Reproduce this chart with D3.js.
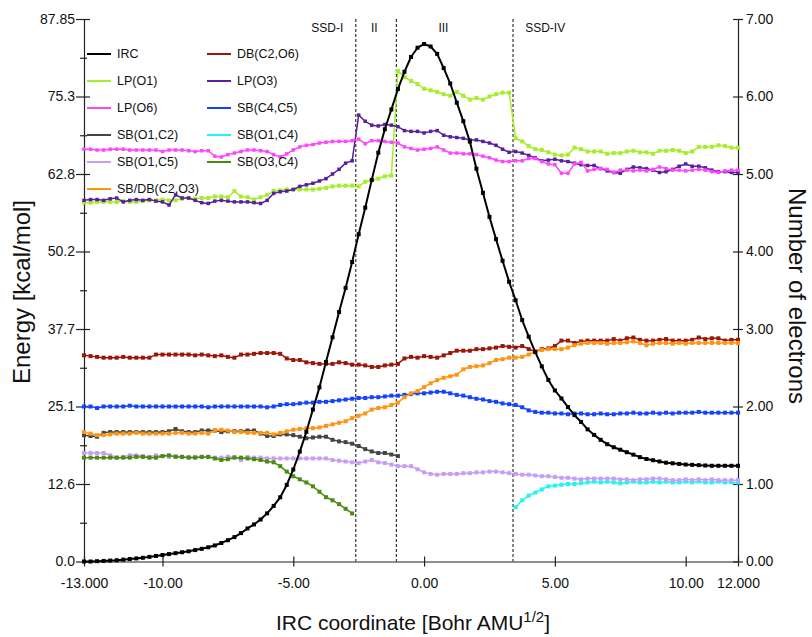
<!DOCTYPE html>
<html>
<head>
<meta charset="utf-8">
<script src="https://cdn.jsdelivr.net/npm/d3@7"></script>
<style>
  body { margin: 0; background: #fff; }
  svg text { font-family: "Liberation Sans", Arial, Helvetica, sans-serif; fill: #111; }
</style>
</head>
<body>
<div id="chart"></div>
<script>
// ---- data (IRC grid: -13 .. 12, step 0.25) ----
var ircStep = 0.25;

var ircEnergy = [
  0.0, 0.0, 0.05, 0.1,
  0.15, 0.2, 0.3, 0.4,
  0.5, 0.6, 0.75, 0.9,
  1.05, 1.2, 1.35, 1.5,
  1.65, 1.85, 2.05, 2.3,
  2.6, 3.0, 3.45, 3.95,
  4.6, 5.35, 6.0, 6.8,
  7.8, 9.0, 10.4, 12.4,
  14.9, 17.8, 21.0, 24.6,
  28.2, 32.3, 36.3, 40.4,
  44.3, 48.5, 53.0, 57.3,
  61.8, 66.2, 70.0, 73.2,
  76.5, 79.3, 81.7, 83.2,
  83.8, 83.4, 82.2, 79.9,
  77.4, 74.3, 71.3, 68.0,
  63.6, 59.7, 55.8, 52.2,
  48.7, 45.3, 42.3, 39.1,
  36.4, 33.9, 31.6, 29.4,
  27.7, 26.4, 25.0, 23.7,
  22.6, 21.4, 20.5, 19.7,
  19.0, 18.5, 18.1, 17.7,
  17.3, 16.9, 16.6, 16.4,
  16.2, 16.0, 15.9, 15.8,
  15.7, 15.65, 15.6, 15.55,
  15.5, 15.5, 15.5, 15.5,
  15.5
];

var dbC2O6 = [
  2.66, 2.65, 2.64, 2.63,
  2.63, 2.63, 2.64, 2.63,
  2.63, 2.63, 2.63, 2.67,
  2.67, 2.67, 2.67, 2.67,
  2.67, 2.66, 2.67, 2.66,
  2.65, 2.66, 2.64, 2.63,
  2.67, 2.67, 2.68, 2.69,
  2.69, 2.69, 2.68, 2.62,
  2.60, 2.60, 2.57, 2.56,
  2.55, 2.55, 2.55, 2.57,
  2.56, 2.54, 2.54, 2.53,
  2.51, 2.51, 2.53, 2.54,
  2.55, 2.62, 2.64, 2.63,
  2.65, 2.64, 2.63, 2.66,
  2.69, 2.72, 2.72, 2.72,
  2.74, 2.74, 2.75, 2.76,
  2.78, 2.77, 2.76, 2.78,
  2.74, 2.71, 2.74, 2.75,
  2.78, 2.85, 2.85, 2.82,
  2.84, 2.85, 2.85, 2.85,
  2.85, 2.87, 2.85, 2.88,
  2.89, 2.86, 2.85, 2.85,
  2.86, 2.87, 2.85, 2.85,
  2.85, 2.86, 2.89, 2.87,
  2.88, 2.88, 2.85, 2.86,
  2.86
];

var lpO1 = [
  4.63, 4.63, 4.64, 4.64,
  4.64, 4.64, 4.65, 4.64,
  4.64, 4.65, 4.66, 4.66,
  4.67, 4.66, 4.66, 4.68,
  4.69, 4.68, 4.69, 4.69,
  4.71, 4.71, 4.70, 4.78,
  4.71, 4.70, 4.67, 4.70,
  4.73, 4.78, 4.79, 4.80,
  4.80, 4.80, 4.80, 4.80,
  4.81, 4.82, 4.84, 4.85,
  4.85, 4.85, 4.84, 4.90,
  4.92, 4.94, 4.97, 4.98,
  6.33, 6.25, 6.20, 6.16,
  6.10, 6.08, 6.06, 6.03,
  6.01, 6.06, 6.01, 5.96,
  5.98, 5.96, 6.00, 6.03,
  6.05, 6.05, 5.46, 5.42,
  5.36, 5.32, 5.31, 5.28,
  5.25, 5.24, 5.25, 5.34,
  5.32, 5.29, 5.29, 5.29,
  5.26, 5.27, 5.27, 5.29,
  5.30, 5.28, 5.28, 5.26,
  5.30, 5.30, 5.31, 5.30,
  5.27, 5.29, 5.35, 5.35,
  5.35, 5.37, 5.36, 5.34,
  5.34
];

var lpO3 = [
  4.66, 4.67, 4.67, 4.66,
  4.68, 4.69, 4.64, 4.66,
  4.67, 4.66, 4.67, 4.65,
  4.64, 4.60, 4.73, 4.69,
  4.69, 4.66, 4.63, 4.62,
  4.65, 4.66, 4.65, 4.64,
  4.64, 4.64, 4.63, 4.62,
  4.66, 4.75, 4.77, 4.78,
  4.80, 4.84, 4.86, 4.88,
  4.91, 4.94, 5.00, 5.06,
  5.14, 5.17, 5.76, 5.68,
  5.63, 5.62, 5.64, 5.63,
  5.61, 5.56, 5.55, 5.55,
  5.53, 5.55, 5.56, 5.50,
  5.48, 5.47, 5.46, 5.44,
  5.44, 5.42, 5.40, 5.37,
  5.32, 5.28, 5.29, 5.27,
  5.24, 5.21, 5.17, 5.18,
  5.19, 5.17, 5.16, 5.14,
  5.12, 5.11, 5.11, 5.07,
  5.04, 5.02, 5.01, 5.06,
  5.09, 5.08, 5.07, 5.05,
  5.02, 5.03, 5.06, 5.10,
  5.13, 5.10, 5.10, 5.08,
  5.05, 5.03, 5.03, 5.02,
  5.02
];

var lpO6 = [
  5.32, 5.32, 5.31, 5.31,
  5.32, 5.32, 5.32, 5.31,
  5.31, 5.31, 5.31, 5.31,
  5.29, 5.31, 5.31, 5.31,
  5.30, 5.29, 5.30, 5.30,
  5.23, 5.22, 5.25, 5.27,
  5.29, 5.31, 5.31, 5.30,
  5.29, 5.25, 5.22, 5.26,
  5.31, 5.35, 5.37, 5.38,
  5.40, 5.41, 5.42, 5.42,
  5.42, 5.43, 5.45, 5.39,
  5.43, 5.43, 5.42, 5.41,
  5.40, 5.35, 5.33, 5.31,
  5.32, 5.33, 5.35, 5.31,
  5.27, 5.27, 5.26, 5.26,
  5.25, 5.23, 5.21, 5.18,
  5.16, 5.16, 5.17, 5.17,
  5.20, 5.20, 5.16, 5.13,
  5.12, 5.01, 5.01, 5.13,
  5.15, 5.04, 5.06, 5.07,
  5.06, 5.02, 5.05, 5.05,
  5.04, 5.05, 5.04, 5.06,
  5.09, 5.07, 5.05, 5.05,
  5.04, 5.05, 5.06, 5.05,
  5.03, 5.02, 5.04, 5.05,
  5.05
];

var sbC4C5 = [
  2.00, 2.00, 1.98, 2.00,
  2.00, 2.00, 2.00, 2.01,
  2.00, 2.00, 2.00, 2.00,
  2.00, 2.00, 2.00, 2.00,
  2.00, 2.00, 2.00, 1.99,
  2.00, 2.00, 2.00, 2.00,
  2.00, 2.00, 2.00, 2.00,
  1.99, 2.00, 2.02, 2.03,
  2.03, 2.04, 2.05, 2.05,
  2.06, 2.06, 2.07, 2.08,
  2.09, 2.10, 2.11, 2.11,
  2.12, 2.12, 2.13, 2.14,
  2.14, 2.15, 2.16, 2.17,
  2.17, 2.18, 2.19, 2.19,
  2.17, 2.15, 2.14, 2.12,
  2.10, 2.09, 2.07, 2.06,
  2.04, 2.03, 2.02, 1.99,
  1.95, 1.93, 1.92, 1.92,
  1.91, 1.91, 1.90, 1.91,
  1.91, 1.90, 1.90, 1.91,
  1.90, 1.90, 1.91, 1.91,
  1.92, 1.91, 1.91, 1.92,
  1.91, 1.92, 1.91, 1.92,
  1.92, 1.92, 1.93, 1.92,
  1.92, 1.92, 1.92, 1.92,
  1.92
];

// ends at -1.0
var sbO1C2 = [
  1.63, 1.62, 1.61, 1.66,
  1.67, 1.67, 1.67, 1.67,
  1.67, 1.67, 1.67, 1.67,
  1.67, 1.68, 1.71, 1.68,
  1.67, 1.67, 1.69, 1.69,
  1.69, 1.67, 1.68, 1.68,
  1.68, 1.69, 1.69, 1.65,
  1.62, 1.62, 1.64, 1.64,
  1.63, 1.61, 1.59, 1.60,
  1.61, 1.61, 1.57, 1.55,
  1.54, 1.52, 1.49, 1.45,
  1.42, 1.40, 1.40, 1.38,
  1.36
];

// starts at 3.5
var sbO1C4 = [
  0.70, 0.79, 0.85, 0.89, 0.93, 0.97, 0.98, 0.99, 1.00, 1.00,
  1.01, 1.02, 1.03, 1.02, 1.03, 1.02, 1.01, 1.02, 1.03, 1.02,
  1.02, 1.03, 1.02, 1.03, 1.02, 1.02, 1.03, 1.02, 1.03, 1.02,
  1.02, 1.03, 1.02, 1.02, 1.02
];

var sbO1C5 = [
  1.40, 1.40, 1.40, 1.40,
  1.37, 1.34, 1.35, 1.37,
  1.37, 1.36, 1.35, 1.37,
  1.36, 1.35, 1.36, 1.35,
  1.35, 1.35, 1.35, 1.35,
  1.34, 1.34, 1.35, 1.35,
  1.31, 1.35, 1.34, 1.34,
  1.33, 1.33, 1.33, 1.33,
  1.33, 1.33, 1.33, 1.33,
  1.33, 1.33, 1.31, 1.30,
  1.29, 1.28, 1.27, 1.29,
  1.31, 1.28, 1.27, 1.25,
  1.23, 1.23, 1.23, 1.19,
  1.15, 1.13, 1.12, 1.13,
  1.13, 1.13, 1.14, 1.14,
  1.15, 1.15, 1.16, 1.16,
  1.15, 1.14, 1.13, 1.12,
  1.12, 1.11, 1.10, 1.10,
  1.09, 1.08, 1.08, 1.07,
  1.06, 1.07, 1.07, 1.07,
  1.07, 1.07, 1.06, 1.06,
  1.05, 1.06, 1.06, 1.07,
  1.07, 1.06, 1.05, 1.05,
  1.06, 1.05, 1.06, 1.05,
  1.06, 1.05, 1.05, 1.05,
  1.05
];

// ends at -2.75
var sbO3C4 = [
  1.34, 1.34, 1.34, 1.34,
  1.34, 1.34, 1.34, 1.34,
  1.35, 1.35, 1.34, 1.34,
  1.36, 1.37, 1.35, 1.35,
  1.34, 1.34, 1.35, 1.35,
  1.33, 1.31, 1.32, 1.34,
  1.34, 1.33, 1.32, 1.31,
  1.29, 1.28, 1.23, 1.16,
  1.10, 1.06, 1.02, 0.97,
  0.90, 0.83, 0.79, 0.74,
  0.68, 0.62
];

var sbdbC2O3 = [
  1.67, 1.65, 1.63, 1.63,
  1.64, 1.65, 1.65, 1.65,
  1.66, 1.65, 1.65, 1.65,
  1.65, 1.65, 1.66, 1.66,
  1.65, 1.65, 1.66, 1.65,
  1.69, 1.70, 1.69, 1.67,
  1.67, 1.66, 1.66, 1.66,
  1.66, 1.64, 1.66, 1.68,
  1.70, 1.71, 1.72, 1.72,
  1.73, 1.75, 1.77, 1.79,
  1.81, 1.85, 1.88, 1.91,
  1.96, 1.98, 1.99, 2.02,
  2.05, 2.12, 2.17, 2.20,
  2.25, 2.30, 2.34, 2.37,
  2.39, 2.41, 2.48, 2.51,
  2.52, 2.53, 2.56, 2.60,
  2.61, 2.63, 2.63, 2.64,
  2.67, 2.71, 2.73, 2.74,
  2.74, 2.74, 2.76, 2.79,
  2.81, 2.82, 2.82, 2.82,
  2.81, 2.82, 2.82, 2.83,
  2.84, 2.82, 2.79, 2.81,
  2.82, 2.82, 2.81, 2.82,
  2.81, 2.82, 2.82, 2.82,
  2.82, 2.82, 2.82, 2.82,
  2.82
];

// axis ticks and labels
var energyTicks = [0, 12.55, 25.1, 37.65, 50.2, 62.75, 75.3, 87.85];
var energyLabels = ["0.0", "12.6", "25.1", "37.7", "50.2", "62.8", "75.3", "87.85"];
var energyMinor = [6.275, 18.825, 31.375, 43.925, 56.475, 69.025, 81.575];
var electronTicks = [0, 1, 2, 3, 4, 5, 6, 7];
var electronLabels = ["0.00", "1.00", "2.00", "3.00", "4.00", "5.00", "6.00", "7.00"];
var coordTicks = [-13, -10, -5, 0, 5, 10, 12];
var coordLabels = ["-13.000", "-10.00", "-5.00", "0.00", "5.00", "10.00", "12.000"];

// SSD region boundaries and labels
var ssdBounds = [-2.61, -1.06, 3.40];
var ssdNames = ["SSD-I", "II", "III", "SSD-IV"];
var ssdNameX = [-3.70, -1.90, 0.74, 4.63];

// series: name, values, first coordinate, axis, style
var series = [
  { name: "IRC", values: ircEnergy, start: -13, axis: "E", color: "#000000", size: 4, width: 2 },
  { name: "DB(C2,O6)", values: dbC2O6, start: -13, axis: "N", color: "#9b1608", size: 4, width: 1.5 },
  { name: "LP(O1)", values: lpO1, start: -13, axis: "N", color: "#a6ee2b", size: 4, width: 1.5 },
  { name: "LP(O3)", values: lpO3, start: -13, axis: "N", color: "#56209e", size: 3.5, width: 1.5 },
  { name: "LP(O6)", values: lpO6, start: -13, axis: "N", color: "#ff45ff", size: 3.5, width: 1.5 },
  { name: "SB(C4,C5)", values: sbC4C5, start: -13, axis: "N", color: "#1343ff", size: 4, width: 1.5 },
  { name: "SB(O1,C2)", values: sbO1C2, start: -13, axis: "N", color: "#444444", size: 4, width: 1.5 },
  { name: "SB(O1,C4)", values: sbO1C4, start: 3.5, axis: "N", color: "#22f4f4", size: 4, width: 1.5 },
  { name: "SB(O1,C5)", values: sbO1C5, start: -13, axis: "N", color: "#c69ef6", size: 4, width: 1.5 },
  { name: "SB(O3,C4)", values: sbO3C4, start: -13, axis: "N", color: "#4b8c0e", size: 4, width: 1.5 },
  { name: "SB/DB(C2,O3)", values: sbdbC2O3, start: -13, axis: "N", color: "#ff9412", size: 4, width: 1.5 }
];

// ---- layout ----
var margin = { top: 19, right: 74, bottom: 75.5, left: 84 },
    width = 812 - margin.left - margin.right,
    height = 637 - margin.top - margin.bottom;

var root = d3.select("#chart")
    .append("svg")
    .attr("width", 812)
    .attr("height", 637);

var svg = root.append("g")
    .attr("transform", "translate(" + margin.left + "," + margin.top + ")");

var x = d3.scaleLinear().domain([-13, 12]).range([0, width]);
var yE = d3.scaleLinear().domain([0, 87.85]).range([height, 0]);
var yN = d3.scaleLinear().domain([0, 7]).range([height, 0]);

function styleAxis(g) {
    g.attr("font-family", null).attr("font-size", null);
    g.select(".domain").attr("stroke", "#222").attr("stroke-width", 1.2);
    g.selectAll(".tick line").attr("stroke", "#222").attr("stroke-width", 1.2);
    g.selectAll(".tick text").style("font-size", "14px").style("fill", "#111");
}

// left axis (energy)
var gLeft = svg.append("g")
    .call(d3.axisLeft(yE)
        .tickValues(energyTicks)
        .tickFormat(function (d, i) { return energyLabels[i]; })
        .tickSize(8).tickSizeOuter(0).tickPadding(1));
gLeft.selectAll(".tick line").attr("x1", 6);
styleAxis(gLeft);

var gLeftMinor = svg.append("g")
    .call(d3.axisLeft(yE).tickValues(energyMinor).tickFormat("").tickSize(4).tickSizeOuter(0));
gLeftMinor.select(".domain").remove();
gLeftMinor.selectAll(".tick line").attr("x1", 3);
styleAxis(gLeftMinor);

// right axis (electrons)
var gRight = svg.append("g")
    .attr("transform", "translate(" + width + ",0)")
    .call(d3.axisRight(yN)
        .tickValues(electronTicks)
        .tickFormat(function (d, i) { return electronLabels[i]; })
        .tickSize(5).tickSizeOuter(0).tickPadding(3));
gRight.selectAll(".tick line").attr("x1", -5);
styleAxis(gRight);

// bottom axis
var gBottom = svg.append("g")
    .attr("transform", "translate(0," + height + ")")
    .call(d3.axisBottom(x)
        .tickValues(coordTicks)
        .tickFormat(function (d, i) { return coordLabels[i]; })
        .tickSize(5).tickSizeOuter(0).tickPadding(12));
gBottom.selectAll(".tick line").attr("y1", -5);
styleAxis(gBottom);

// SSD dashed boundaries
svg.selectAll(".ssd")
    .data(ssdBounds)
    .enter()
    .append("line")
    .attr("class", "ssd")
    .attr("x1", function (d) { return x(d); })
    .attr("x2", function (d) { return x(d); })
    .attr("y1", 0)
    .attr("y2", height)
    .attr("stroke", "#222")
    .attr("stroke-width", 1.1)
    .attr("stroke-dasharray", "3,2");

svg.selectAll(".ssd-name")
    .data(ssdNames)
    .enter()
    .append("text")
    .attr("class", "ssd-name")
    .attr("x", function (d, i) { return x(ssdNameX[i]); })
    .attr("y", 12.5)
    .attr("text-anchor", "middle")
    .style("font-size", "12px")
    .text(function (d) { return d; });

// series lines + markers
function pointsOf(s) {
    return s.values.map(function (v, i) { return { x: s.start + i * ircStep, y: v }; });
}

var drawOrder = series.slice(1).concat([series[0]]);

drawOrder.forEach(function (s) {
    var yScale = s.axis === "E" ? yE : yN;
    var pts = pointsOf(s);
    var line = d3.line()
        .x(function (d) { return x(d.x); })
        .y(function (d) { return yScale(d.y); });

    var g = svg.append("g");
    g.append("path")
        .datum(pts)
        .attr("fill", "none")
        .attr("stroke", s.color)
        .attr("stroke-width", s.width)
        .attr("stroke-linejoin", "round")
        .attr("d", line);

    g.selectAll("rect")
        .data(pts)
        .enter()
        .append("rect")
        .attr("x", function (d) { return x(d.x) - s.size / 2; })
        .attr("y", function (d) { return yScale(d.y) - s.size / 2; })
        .attr("width", s.size)
        .attr("height", s.size)
        .attr("fill", s.color);
});

// legend (two columns, row-major)
var legend = svg.append("g");
var legendItems = legend.selectAll(".legend-item")
    .data(series)
    .enter()
    .append("g")
    .attr("class", "legend-item")
    .attr("transform", function (d, i) {
        var col = i % 2, row = Math.floor(i / 2);
        return "translate(" + (3 + col * 120) + "," + (35 + row * 27) + ")";
    });

legendItems.append("line")
    .attr("x1", 0).attr("x2", 24)
    .attr("y1", 0).attr("y2", 0)
    .attr("stroke", function (d) { return d.color; })
    .attr("stroke-width", 2);

legendItems.append("text")
    .attr("x", 30)
    .attr("y", 0)
    .attr("dy", "0.35em")
    .style("font-size", "12.5px")
    .text(function (d) { return d.name; });

// axis titles
root.append("text")
    .attr("transform", "translate(30,292) rotate(-90)")
    .attr("text-anchor", "middle")
    .style("font-size", "24px")
    .text("Energy [kcal/mol]");

root.append("text")
    .attr("transform", "translate(789,296) rotate(90)")
    .attr("text-anchor", "middle")
    .style("font-size", "24px")
    .text("Number of electrons");

var xTitle = root.append("text")
    .attr("x", 413)
    .attr("y", 630)
    .attr("text-anchor", "middle")
    .style("font-size", "21px");
xTitle.append("tspan").text("IRC coordinate [Bohr AMU");
xTitle.append("tspan").attr("dy", -8).style("font-size", "15px").text("1/2");
xTitle.append("tspan").attr("dy", 8).text("]");
</script>
</body>
</html>
